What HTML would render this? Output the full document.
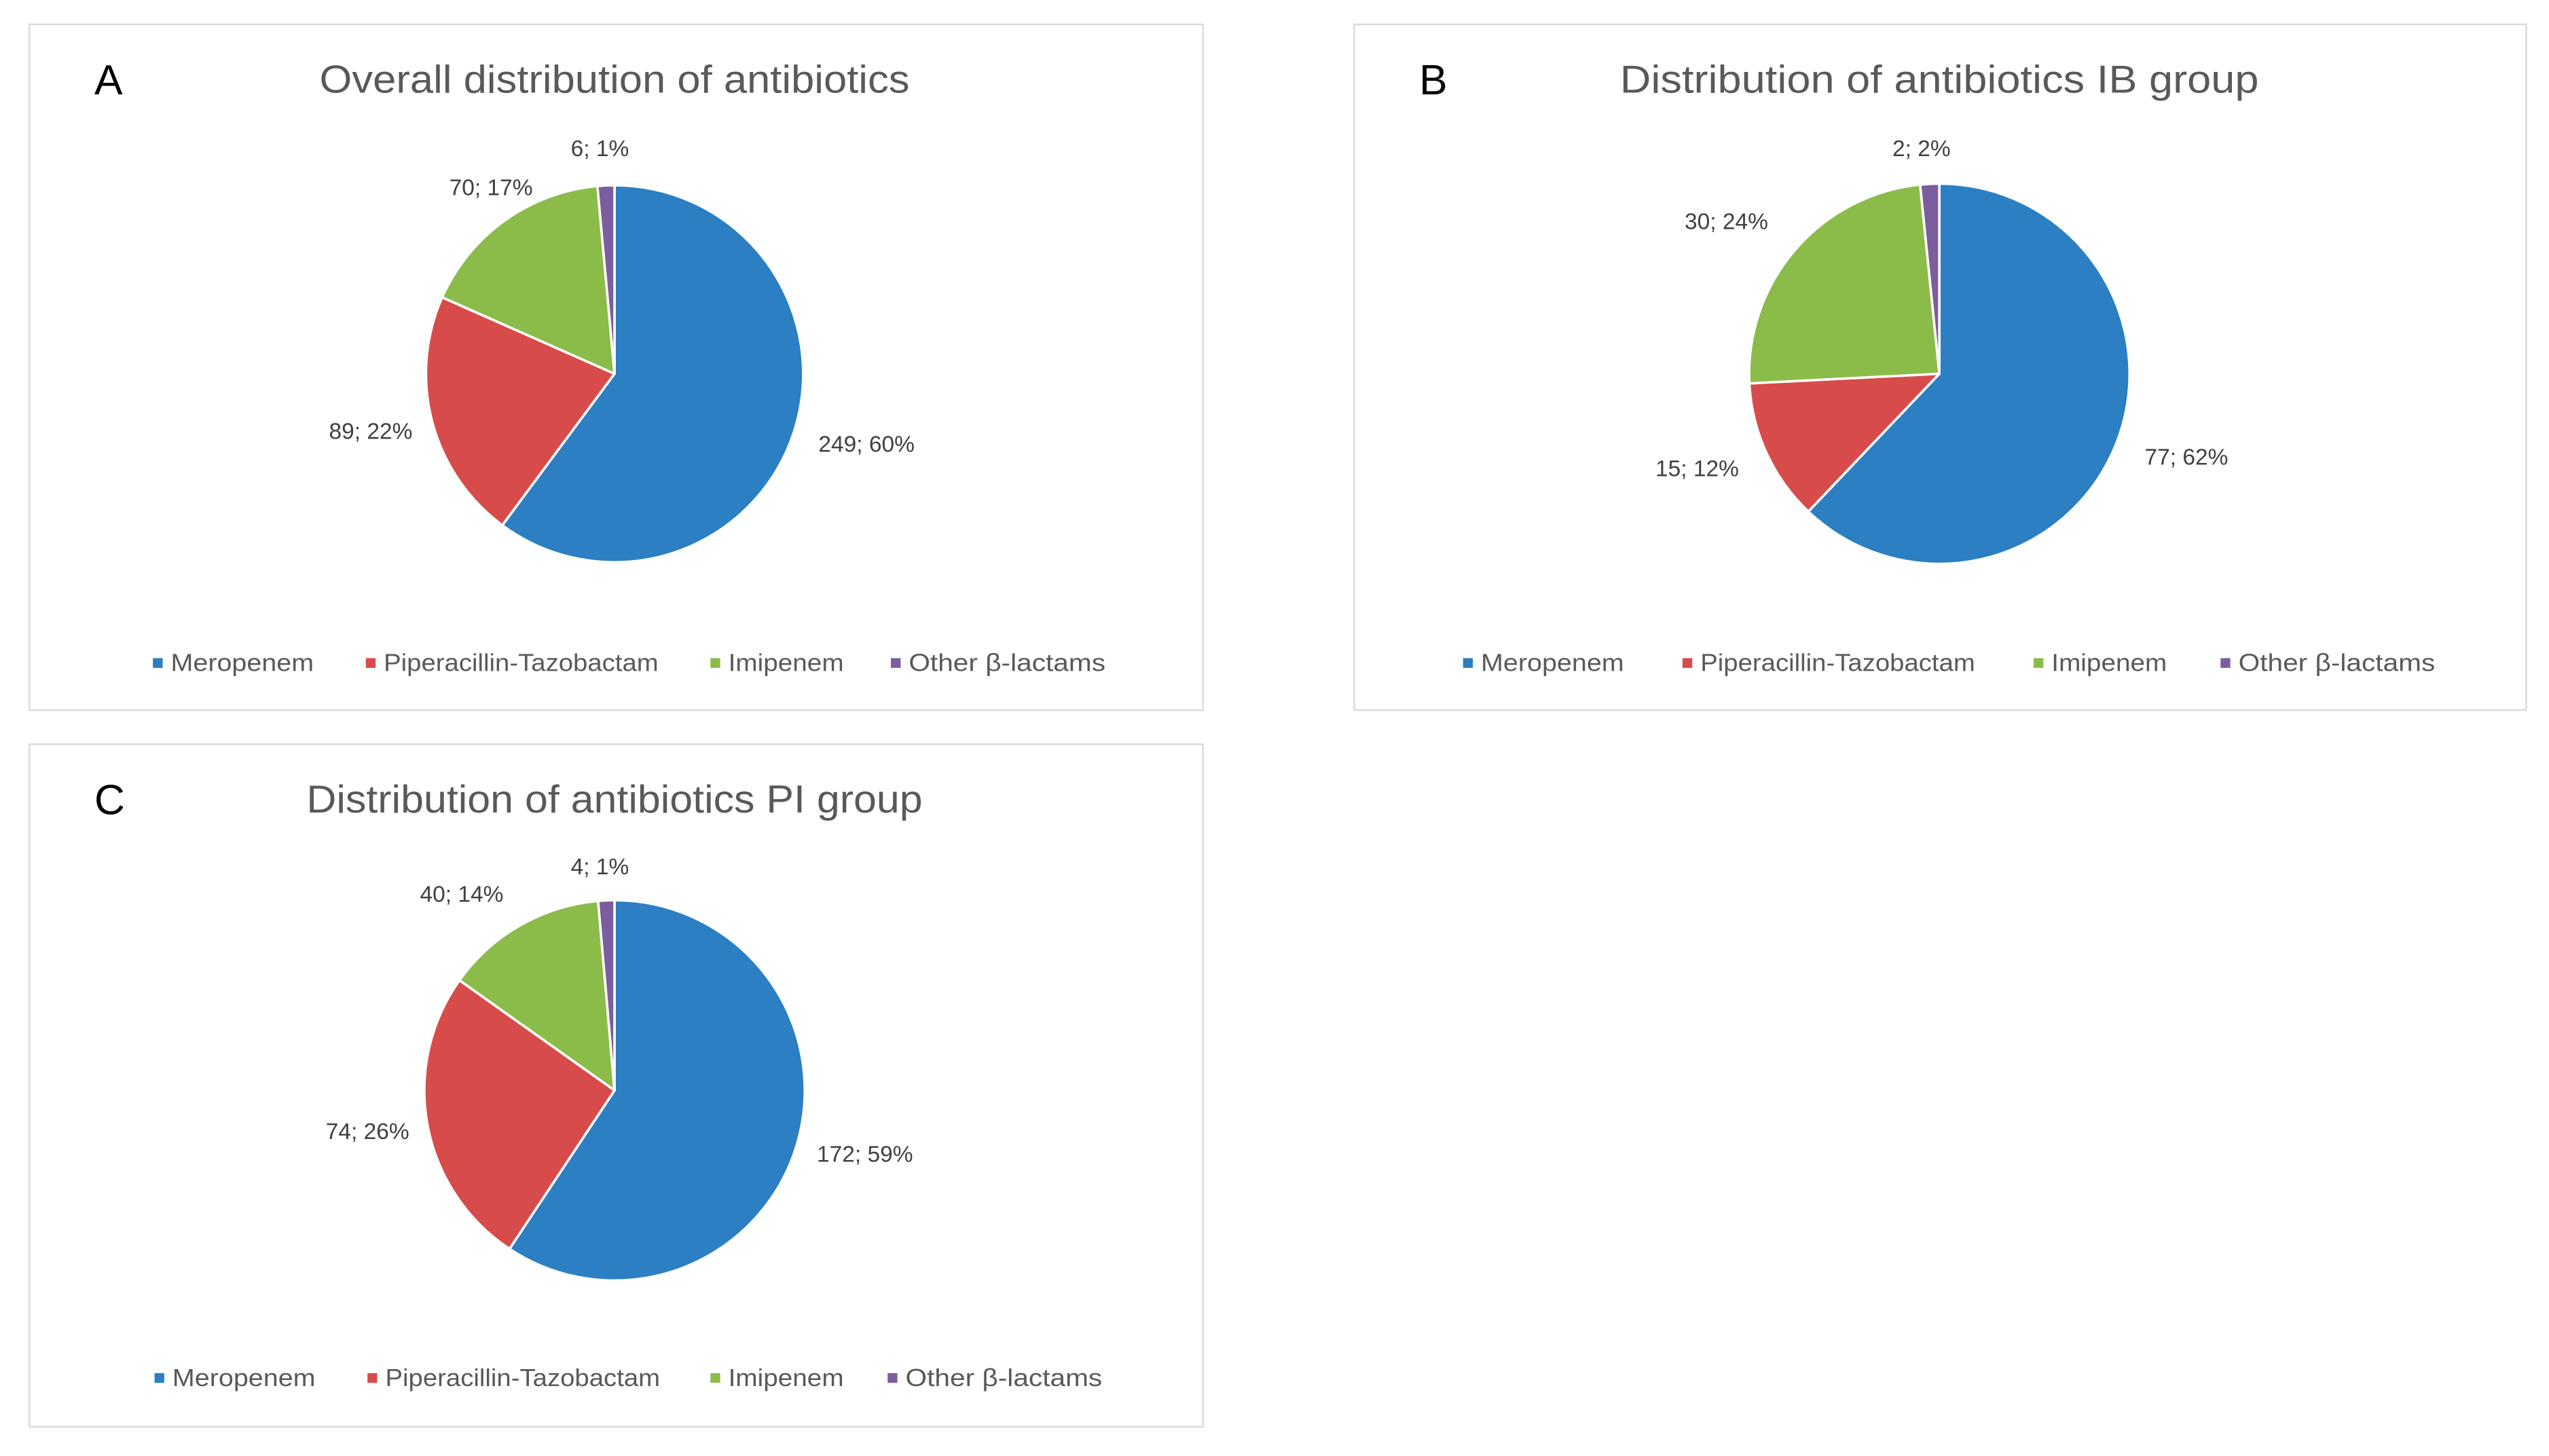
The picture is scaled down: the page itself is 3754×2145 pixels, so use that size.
<!DOCTYPE html>
<html><head><meta charset="utf-8"><style>
html,body{margin:0;padding:0;background:#fff;}
svg{display:block;}
text{font-family:"Liberation Sans",sans-serif;}
</style></head>
<body>
<svg id="fig" width="3754" height="2145" viewBox="0 0 1568 896" xmlns="http://www.w3.org/2000/svg"></svg>
<script>
// ---- data ----
const categories = ["Meropenem", "Piperacillin-Tazobactam", "Imipenem", "Other β-lactams"];
const valuesA = [249, 89, 70, 6];
const valuesB = [77, 15, 30, 2];
const valuesC = [172, 74, 40, 4];
const percentsA = [60, 22, 17, 1];
const percentsB = [62, 12, 24, 2];
const percentsC = [59, 26, 14, 1];
const titles = ["Overall distribution of antibiotics", "Distribution of antibiotics IB group", "Distribution of antibiotics PI group"];
const panelLetters = ["A", "B", "C"];

// ---- layout (not data) ----
const colors = ["#2b7fc2", "#d84b4b", "#8bbc4a", "#7c5d9e"];
const panels = [
  {x:18, y:15, w:722, h:422, cx:378, cy:230, r:116, title:titles[0], tw:363, letter:panelLetters[0],
   values:valuesA, pct:percentsA, labelPos:[[533,273],[228,265],[302,115],[369,91]],
   legendX:[97,228,440,551], name:"panel-a"},
  {x:833, y:15, w:721, h:422, cx:1193, cy:230, r:117, title:titles[1], tw:393, letter:panelLetters[1],
   values:valuesB, pct:percentsB, labelPos:[[1345,281],[1044,288],[1062,136],[1182,91]],
   legendX:[903,1038,1254,1369], name:"panel-b"},
  {x:18, y:458, w:722, h:420, cx:378, cy:671, r:117, title:titles[2], tw:379, letter:panelLetters[2],
   values:valuesC, pct:percentsC, labelPos:[[532,710],[226,696],[284,550],[369,533]],
   legendX:[98,229,440,549], name:"panel-c"}
];
const legendTextW = [88, 169, 71, 121];

const NS = "http://www.w3.org/2000/svg";
const svg = document.getElementById("fig");
function mk(tag, attrs, parent){
  const e = document.createElementNS(NS, tag);
  for (const k in attrs) e.setAttribute(k, attrs[k]);
  parent.appendChild(e);
  return e;
}
function angleScale(v, total){ return v / total * Math.PI * 2; }
function pt(cx, cy, r, a){ return [cx + r*Math.sin(a), cy - r*Math.cos(a)]; }

panels.forEach(p => {
  const g = mk("g", {}, svg);
  
  
  const box = mk("rect", {x:p.x, y:p.y, width:p.w, height:p.h, fill:"#fff", stroke:"#d9d9d9", "stroke-width":1}, g);
  
  
  const lt = mk("text", {x:p.x+40, y:p.y+43, "font-size":26, fill:"#000"}, g);
  lt.textContent = p.letter;
  
  
  const tt = mk("text", {x:p.cx, y:p.y+42, "font-size":24, fill:"#595959", "text-anchor":"middle", textLength:p.tw, lengthAdjust:"spacingAndGlyphs"}, g);
  tt.textContent = p.title;
  
  

  const total = p.values.reduce((a,b)=>a+b, 0);
  let a0 = 0;
  p.values.forEach((v, i) => {
    const a1 = a0 + angleScale(v, total);
    const s = pt(p.cx, p.cy, p.r, a0), e = pt(p.cx, p.cy, p.r, a1);
    const large = (a1 - a0) > Math.PI ? 1 : 0;
    const path = mk("path", {d:`M${p.cx},${p.cy} L${s[0]},${s[1]} A${p.r},${p.r} 0 ${large} 1 ${e[0]},${e[1]} Z`,
      fill:colors[i], stroke:"#fff", "stroke-width":1.5, "stroke-linejoin":"round"}, g);
    
    
    a0 = a1;
    const lp = p.labelPos[i];
    const lbl = mk("text", {x:lp[0], y:lp[1]+5, "font-size":14, fill:"#404040", "text-anchor":"middle"}, g);
    lbl.textContent = v + "; " + p.pct[i] + "%";
    
    
  });

  const ly = p.y + (p.name === "panel-c" ? 390 : 393);
  categories.forEach((c, i) => {
    const lg = mk("g", {}, g);
    
    
    mk("rect", {x:p.legendX[i]-3, y:ly-3, width:6, height:6, fill:colors[i]}, lg);
    const t = mk("text", {x:p.legendX[i]+8, y:ly+5, "font-size":15, fill:"#595959", textLength:legendTextW[i], lengthAdjust:"spacingAndGlyphs"}, lg);
    t.textContent = c;
  });
});
</script>
</body></html>
